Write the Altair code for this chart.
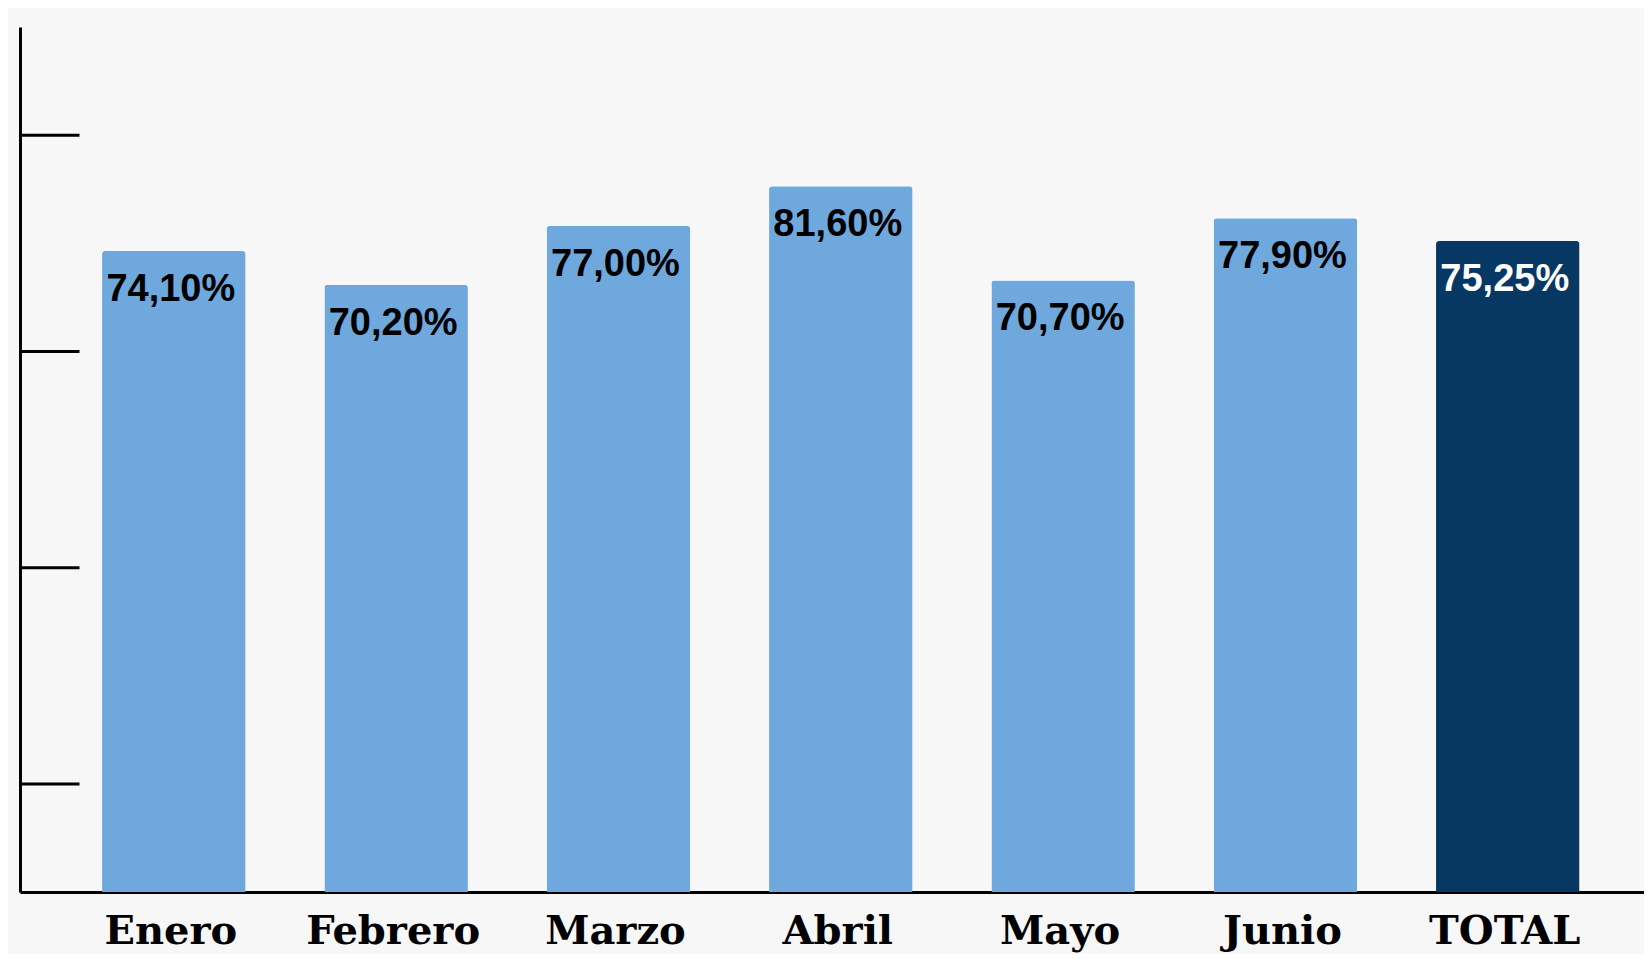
import altair as alt
import pandas as pd

meses = ["Enero", "Febrero", "Marzo", "Abril", "Mayo", "Junio", "TOTAL"]
valores = [74.10, 70.20, 77.00, 81.60, 70.70, 77.90, 75.25]
tipos = ["mes", "mes", "mes", "mes", "mes", "mes", "total"]
marcas_y = [12.5, 37.5, 62.5, 87.5]

df = pd.DataFrame({
    "mes": meses,
    "valor": valores,
    "tipo": tipos,
    "etiqueta": [f"{v:.2f}".replace(".", ",") + "%" for v in valores],
})
df_ticks = pd.DataFrame({"t": marcas_y})

W = 1624
H = 865

xscale = alt.Scale(domain=meses, paddingInner=0.3546, paddingOuter=0.3296, align=0.56, round=False)
yscale = alt.Scale(domain=[0, 100], nice=False, zero=True)
yaxis = alt.Axis(domain=True, domainColor="black", domainWidth=3, ticks=False,
                 labels=False, grid=False, title=None)

x_enc = alt.X("mes:N", sort=meses, scale=xscale, title=None,
              axis=alt.Axis(domain=True, domainColor="black", domainWidth=3, ticks=False,
                            labelAngle=0, labelFont="DejaVu Serif", labelFontWeight="bold",
                            labelFontSize=40, labelColor="black", labelBaseline="alphabetic",
                            labelPadding=51, labelOffset=-3, grid=False))

bars = alt.Chart(df).mark_bar(cornerRadiusTopLeft=3, cornerRadiusTopRight=3).encode(
    x=x_enc,
    y=alt.Y("valor:Q", scale=yscale, title=None, axis=yaxis),
    color=alt.Color("tipo:N", scale=alt.Scale(domain=["mes", "total"], range=["#6fa8dc", "#073763"]),
                    legend=None),
)

text = alt.Chart(df).mark_text(font="Liberation Sans", fontWeight="bold", fontSize=38,
                               baseline="alphabetic", align="center", dy=50, dx=-3).encode(
    x=alt.X("mes:N", sort=meses, scale=xscale),
    y=alt.Y("valor:Q", scale=yscale, axis=yaxis),
    text="etiqueta:N",
    color=alt.condition(alt.datum.tipo == "total", alt.value("white"), alt.value("black")),
)

ticks = alt.Chart(df_ticks).mark_rule(color="black", strokeWidth=3).encode(
    y=alt.Y("t:Q", scale=yscale, axis=yaxis),
    x=alt.value(0),
    x2=alt.value(59.5),
)

chart = alt.layer(bars, ticks, text).properties(
    width=W, height=H,
    autosize=alt.AutoSizeParams(type="none"),
    padding={"left": 12, "top": 19, "right": 0, "bottom": 62},
    background="#f7f7f7",
).configure_view(stroke=None, fill="#f7f7f7")

chart.save("out.html", embed_options={"renderer": "svg", "actions": False})
